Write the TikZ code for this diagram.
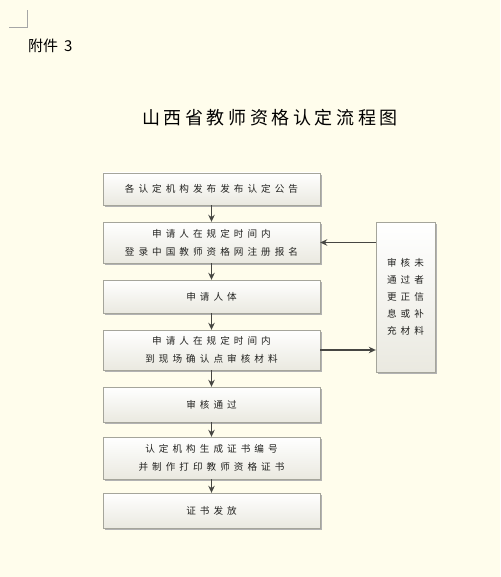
\documentclass[tikz,border=0pt]{standalone}
\usepackage{fontspec}
\usepackage{tikz}
\usetikzlibrary{arrows.meta, shadows}
\newfontfamily\cjk{Noto Sans CJK SC}
\newfontfamily\cjkwide[LetterSpace=42]{Noto Sans CJK SC}
\newfontfamily\cjktitle[LetterSpace=20]{Noto Sans CJK SC}
\definecolor{bgcream}{RGB}{255,253,236}
\definecolor{boxline}{RGB}{165,165,155}
\definecolor{boxgray}{RGB}{234,233,224}
\definecolor{arrowgray}{RGB}{70,70,66}
\definecolor{textgray}{RGB}{35,35,33}

\begin{document}
\begin{tikzpicture}[x=1pt, y=-1pt,
    stepbox/.style={draw=boxline, top color=white, bottom color=boxgray,
        drop shadow={shadow xshift=2pt, shadow yshift=-2pt, fill=black!30, opacity=1},
        minimum width=217pt, inner sep=0pt, align=center, text=textgray,
        font=\cjkwide\fontsize{9.6}{18}\selectfont},
    flow/.style={draw=arrowgray, line width=1.3pt, -{Stealth[length=7pt, width=6.5pt]}}]
            % page
            \fill[bgcream] (0,0) rectangle (500,577);
            \draw[black!35] (9,27) -- (27,27) -- (27,10);
            \node[anchor=west, font=\cjk\fontsize{15}{15}\selectfont, inner sep=0pt] (annex) at (28,46) {附件\hspace{6pt}3};
            \node[font=\cjktitle\fontsize{18}{18}\selectfont] (title) at (270,118) {山西省教师资格认定流程图};

            % main column
            \node[stepbox, minimum height=32pt] (s1) at (211.5,189) {各认定机构发布发布认定公告};
            \node[stepbox, minimum height=41pt] (s2) at (211.5,242.5) {申请人在规定时间内\\登录中国教师资格网注册报名};
            \node[stepbox, minimum height=33pt] (s3) at (211.5,296.5) {申请人体};
            \node[stepbox, minimum height=40pt] (s4) at (211.5,350) {申请人在规定时间内\\到现场确认点审核材料};
            \node[stepbox, minimum height=35pt] (s5) at (211.5,404.5) {审核通过};
            \node[stepbox, minimum height=42pt] (s6) at (211.5,458) {认定机构生成证书编号\\并制作打印教师资格证书};
            \node[stepbox, minimum height=35pt] (s7) at (211.5,510.5) {证书发放};

            % side box
            \node[stepbox, minimum width=59pt, minimum height=150pt,
                font=\cjkwide\fontsize{9.6}{17}\selectfont] (fix) at (405.5,297) {审核未\\通过者\\更正信\\息或补\\充材料};

            \draw[flow] (s1) -- (s2);
            \draw[flow] (s2) -- (s3);
            \draw[flow] (s3) -- (s4);
            \draw[flow] (s4) -- (s5);
            \draw[flow] (s5) -- (s6);
            \draw[flow] (s6) -- (s7);
            \draw[flow] (fix.west |- s2) -- (s2.east);
            \draw[flow] (s4.east) -- (fix.west |- s4);
        \end{tikzpicture}
\end{document}
